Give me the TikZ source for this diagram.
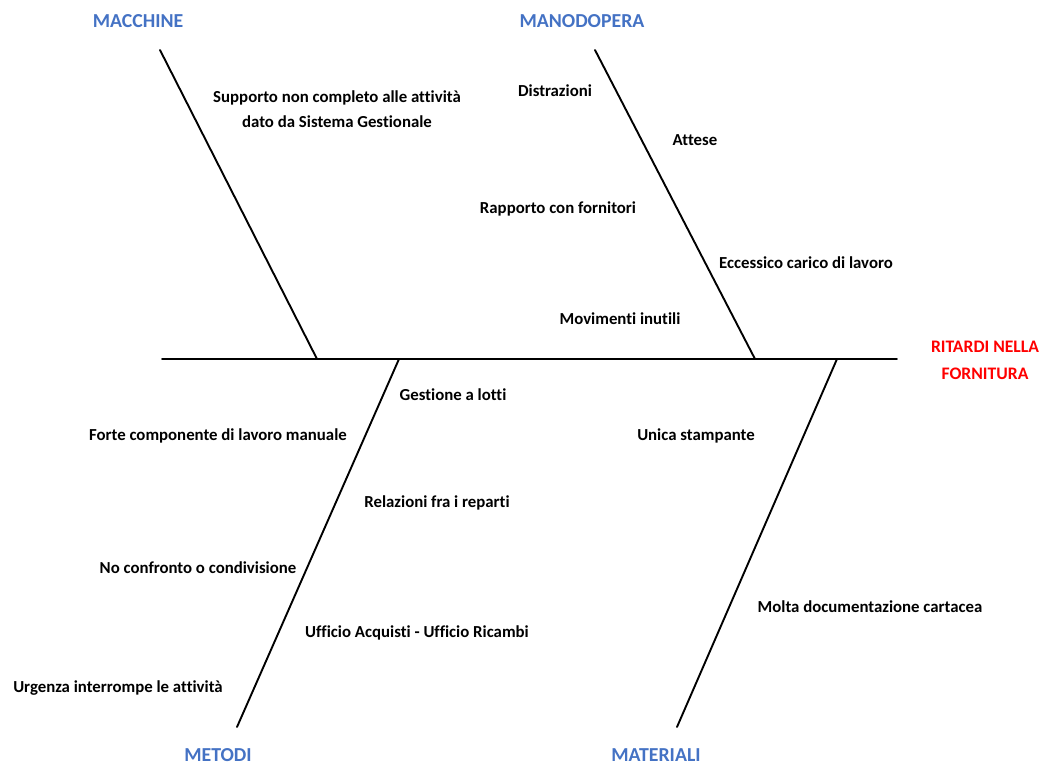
\documentclass[tikz,border=0pt]{standalone}
\usepackage{fontspec}
\setmainfont[Ligatures=NoCommon]{Carlito}
\definecolor{catblue}{RGB}{68,114,196}
\definecolor{effred}{RGB}{255,0,0}
\begin{document}
\begin{tikzpicture}[x=1pt,y=-1pt,
  bone/.style={line width=1.9pt, line cap=round},
  cause/.style={font=\fontsize{16.8}{25}\selectfont\bfseries, inner sep=0pt, anchor=center},
  category/.style={font=\fontsize{19.8}{22}\selectfont\bfseries, text=catblue, inner sep=0pt, anchor=center},
  effect/.style={font=\fontsize{17.6}{27}\selectfont\bfseries, text=effred, inner sep=0pt, align=center, anchor=center}]
\useasboundingbox (0,0) rectangle (1045,767);
% spine and effect
\coordinate (tail) at (162,359);
\coordinate (head) at (897,359);
\draw[bone] (tail) -- (head);
\node[effect] (effetto) at (985,360) {RITARDI NELLA\\FORNITURA};
% bone end points
\coordinate (macTop) at (160,50);   \coordinate (macBase) at (317,359);
\coordinate (manTop) at (595,50);   \coordinate (manBase) at (755,359);
\coordinate (metBase) at (399,359); \coordinate (metEnd) at (237,727);
\coordinate (matBase) at (837,359); \coordinate (matEnd) at (677,727);
\draw[bone] (macTop) -- (macBase);
\draw[bone] (manTop) -- (manBase);
\draw[bone] (metBase) -- (metEnd);
\draw[bone] (matBase) -- (matEnd);
% categories
\node[category] (macchine) at (138,21) {MACCHINE};
\node[category] (manodopera) at (582,21) {MANODOPERA};
\node[category] (metodi) at (218,755) {METODI};
\node[category] (materiali) at (656,755) {MATERIALI};
% causes: macchine
\node[cause, align=center] (c1) at (337,109) {Supporto non completo alle attività\\dato da Sistema Gestionale};
% causes: manodopera
\node[cause] (c2) at (555,91) {Distrazioni};
\node[cause] (c3) at (695,140) {Attese};
\node[cause] (c4) at (558,209) {Rapporto con fornitori};
\node[cause] (c5) at (806,263) {Eccessico carico di lavoro};
\node[cause] (c6) at (620,319) {Movimenti inutili};
% causes: metodi
\node[cause] (c7) at (453,395) {Gestione a lotti};
\node[cause] (c8) at (218,436) {Forte componente di lavoro manuale};
\node[cause] (c9) at (437,503) {Relazioni fra i reparti};
\node[cause] (c10) at (198,568) {No confronto o condivisione};
\node[cause] (c11) at (417,633) {Ufficio Acquisti - Ufficio Ricambi};
\node[cause] (c12) at (118,688) {Urgenza interrompe le attività};
% causes: materiali
\node[cause] (c13) at (696,436) {Unica stampante};
\node[cause] (c14) at (870,607) {Molta documentazione cartacea};
\end{tikzpicture}
\end{document}
